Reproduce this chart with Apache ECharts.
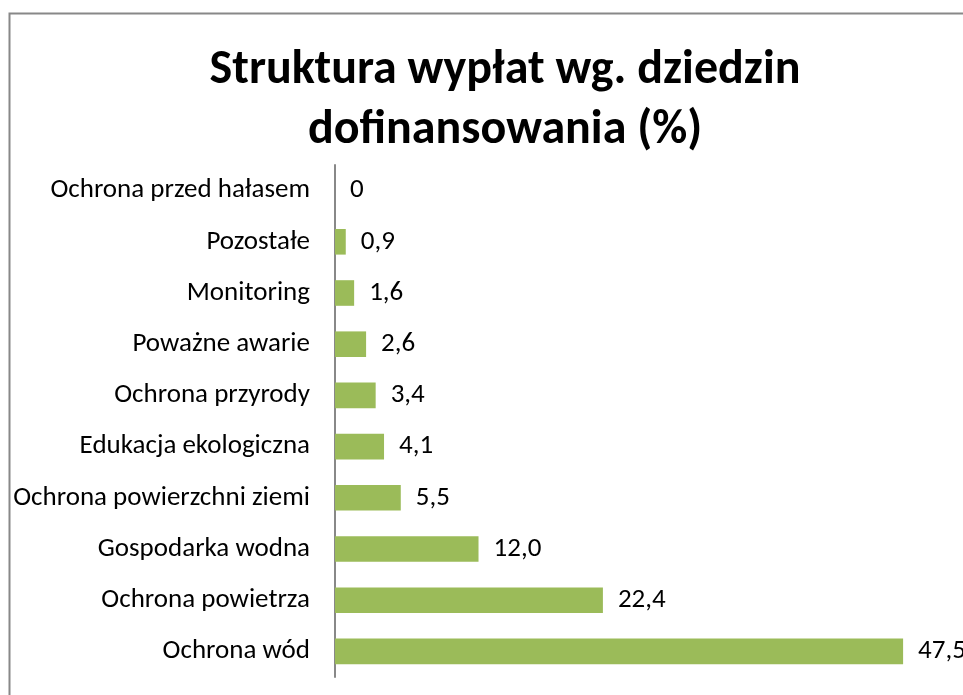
<!DOCTYPE html>
<html>
<head>
<meta charset="utf-8">
<script src="https://cdn.jsdelivr.net/npm/echarts@6/dist/echarts.min.js"></script>
<style>
  html, body { margin: 0; padding: 0; background: #fff; }
  #chart { width: 963px; height: 695px; }
</style>
</head>
<body>
<div id="chart"></div>
<script>
// dziedziny dofinansowania (od góry)
const categories = [
  'Ochrona przed hałasem',
  'Pozostałe',
  'Monitoring',
  'Poważne awarie',
  'Ochrona przyrody',
  'Edukacja ekologiczna',
  'Ochrona powierzchni ziemi',
  'Gospodarka wodna',
  'Ochrona powietrza',
  'Ochrona wód'
];
const values = [0, 0.9, 1.6, 2.6, 3.4, 4.1, 5.5, 12.0, 22.4, 47.5];

const font = 'Carlito, "Open Sans", "Noto Sans", sans-serif';

let myChart = echarts.init(document.getElementById('chart'));
let option = {
  animation: false,
  title: {
    text: 'Struktura wypłat wg. dziedzin\ndofinansowania (%)',
    left: 500,
    top: 36,
    textAlign: 'center',
    textStyle: {
      fontFamily: font,
      fontSize: 48,
      fontWeight: 'bold',
      color: '#000',
      lineHeight: 60
    }
  },
  graphic: [{
    type: 'rect',
    shape: { x: 9.5, y: 13.5, width: 1000, height: 800 },
    style: { fill: null, stroke: '#888', lineWidth: 2 },
    silent: true
  }],
  grid: {
    left: 335,
    right: 30,
    top: 165,
    bottom: 18
  },
  xAxis: {
    type: 'value',
    min: 0,
    max: 50,
    show: false
  },
  yAxis: {
    type: 'category',
    data: categories,
    inverse: true,
    axisTick: { show: false },
    axisLine: { show: true, lineStyle: { color: '#888', width: 2 } },
    axisLabel: {
      color: '#000',
      fontFamily: font,
      fontSize: 27,
      margin: 25
    }
  },
  series: [{
    type: 'bar',
    data: values,
    barCategoryGap: '50%',
    itemStyle: { color: '#9BBB59' },
    label: {
      show: true,
      position: 'right',
      distance: 15,
      color: '#000',
      fontFamily: font,
      fontSize: 27,
      formatter: p => p.value === 0 ? '0' : p.value.toFixed(1).replace('.', ',')
    }
  }]
};
myChart.setOption(option);
</script>
</body>
</html>
